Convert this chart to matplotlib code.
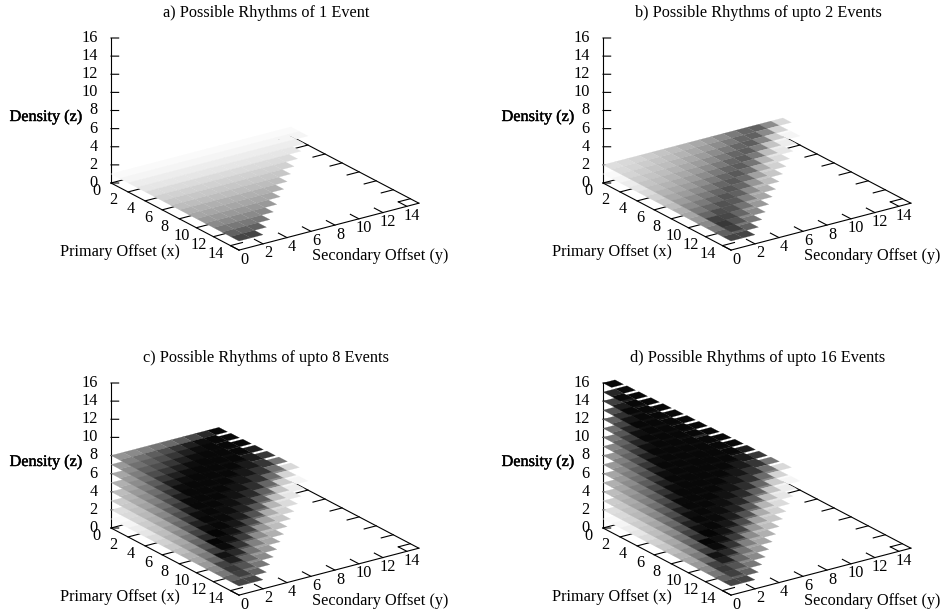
#!/usr/bin/env python3
"""Four gnuplot style pm3d plots of possible rhythms by density and offsets."""

import matplotlib
matplotlib.use("Agg")
import matplotlib.pyplot as plt
import matplotlib.patheffects as pe
from mpl_toolkits.mplot3d import proj3d
from mpl_toolkits.mplot3d.art3d import Poly3DCollection

W, H = 945, 611

TITLES = [
    "a) Possible Rhythms of 1 Event",
    "b) Possible Rhythms of upto 2 Events",
    "c) Possible Rhythms of upto 8 Events",
    "d) Possible Rhythms of upto 16 Events",
]
MAX_DENSITY = [1, 2, 8, 16]
OFFSET_TICKS = [0, 2, 4, 6, 8, 10, 12, 14]
DENSITY_TICKS = [0, 2, 4, 6, 8, 10, 12, 14, 16]

# gray level (percent white) of the z=1 layer, one value per primary offset
LAYER_1 = [98, 96, 93, 90, 86, 82, 78, 74, 69, 65, 60, 54, 47, 38, 27]

# gray level for the other layers, one value per x+y
LAYERS = {
    2: [87, 85, 83, 80, 77, 74, 70, 66, 61, 55, 48, 40, 33, 33, 33],
    3: [80, 78, 75, 72, 69, 65, 60, 54, 47, 40, 32, 23, 15, 15],
    4: [74, 71, 67, 63, 58, 53, 47, 41, 34, 26, 17, 9, 9],
    5: [69, 65, 60, 55, 50, 44, 37, 30, 22, 13, 6, 6],
    6: [65, 60, 55, 49, 43, 36, 29, 21, 12, 5, 3],
    7: [60, 55, 49, 43, 36, 28, 20, 11, 4, 3],
    8: [56, 50, 44, 37, 30, 21, 12, 5, 3],
    9: [52, 45, 38, 30, 21, 12, 5, 3],
    10: [47, 39, 31, 22, 12, 5, 3],
    11: [43, 34, 24, 14, 6, 3],
    12: [38, 27, 15, 6, 3],
    13: [32, 19, 8, 3],
    14: [25, 11, 3],
    15: [15, 4],
    16: [3],
}

# the back row (x=0) of layer 8 is lighter, one value per y
LAYER_8_BACK_ROW = [58, 54, 50, 46, 42, 36, 28, 16, 3]

# cells on or next to the stepped boundary, (layer, steps from it): one per x
EDGES = {
    (2, 0): [85, 83, 80, 77, 74, 71, 67, 63, 59, 55, 50, 45, 40, 33, 25],
    (2, 1): [55, 54, 52, 50, 48, 46, 44, 42, 40, 38, 35, 32, 28, 22],
    (2, 2): [38, 38, 37, 37, 36, 36, 35, 35, 34, 33, 32, 30, 26],
    (3, 0): [45, 44, 42, 40, 38, 36, 34, 32, 29, 26, 23, 20, 16, 12],
    (3, 1): [22, 21, 20, 19, 18, 17, 16, 15, 14, 13, 11, 9, 7],
    (4, 0): [22, 21, 20, 19, 18, 16, 15, 13, 11, 9, 7, 6, 4],
    (4, 1): [10, 10, 9, 9, 8, 8, 7, 6, 5, 4, 3, 2],
    (5, 0): [11, 10, 10, 9, 9, 8, 7, 6, 5, 4, 3, 2],
}

ORIGINS = [(111, 183), (603, 183), (111, 528), (603, 528)]
BOX = (222, 220, 156)
Z_PIXELS = 145


def cell_tone(x, y, z):
    if z == 1:
        return LAYER_1[x]
    if z == 8 and x == 0:
        return LAYER_8_BACK_ROW[y]
    steps = 16 - z - x - y
    if (z, steps) in EDGES:
        return EDGES[(z, steps)][x]
    return LAYERS[z][x + y]


def project(ax, x, y, z):
    px, py, _ = proj3d.proj_transform(x, y, z, ax.get_proj())
    return ax.transData.transform((px, py))


def fit_axes(fig, ax, origin):
    # scale and shift the 3d box so its z axis lands on the wanted pixels
    fig.canvas.draw()
    length = project(ax, 0, 0, 16)[1] - project(ax, 0, 0, 0)[1]
    ax.set_box_aspect(BOX, zoom=Z_PIXELS / length)
    fig.canvas.draw()
    px, py = project(ax, 0, 0, 0)
    pos = ax.get_position()
    ax.set_position([pos.x0 + (origin[0] - px) / W,
                     pos.y0 + (H - origin[1] - py) / H,
                     pos.width, pos.height])
    fig.canvas.draw()


def data_text(fig, ax, x, y, z, text, **kw):
    px, py = project(ax, x, y, z)
    fig.text(px / W, py / H, text, **kw)


def draw_panel(fig, index):
    ox, oy = ORIGINS[index]
    ax = fig.add_axes([(ox - 100) / W, 1 - (oy + 120) / H, 400 / W, 400 / H],
                      projection="3d", proj_type="ortho")
    ax.view_init(elev=21.7, azim=-35.2)
    ax.set_box_aspect(BOX)
    ax.set_xlim(0, 15, view_margin=0)
    ax.set_ylim(0, 15, view_margin=0)
    ax.set_zlim(0, 16, view_margin=0)
    ax.set_axis_off()
    ax.patch.set_visible(False)
    ax.computed_zorder = False

    # border
    line = dict(color="k", lw=0.8, zorder=1)
    ax.plot([0, 15], [0, 0], [0, 0], **line)
    ax.plot([15, 15], [0, 15], [0, 0], **line)
    ax.plot([0, 15], [15, 15], [0, 0], **line)
    ax.plot([0, 0], [0, 0], [0, 16], **line)

    for t in OFFSET_TICKS:
        ax.plot([t, t], [0, 1], [0, 0], **line)
        ax.plot([t, t], [15, 14], [0, 0], **line)
        ax.plot([15, 14], [t, t], [0, 0], **line)
    for t in DENSITY_TICKS:
        # this direction in the base plane is horizontal on screen
        ax.plot([0, 0.30], [0, 0.425], [t, t], **line)

    polys, colors = [], []
    for z in range(1, MAX_DENSITY[index] + 1):
        for x in range(15):
            for y in range(15):
                if x + y + z > 16:
                    continue
                polys.append([(x, y, z), (x + 1, y, z),
                              (x + 1, y + 1, z), (x, y + 1, z)])
                colors.append(str(cell_tone(x, y, z) / 100))
    surface = Poly3DCollection(polys, facecolors=colors, edgecolors=colors,
                               linewidths=0.15, zsort="average", zorder=2)
    ax.add_collection3d(surface)

    fit_axes(fig, ax, (ox, oy))

    for t in OFFSET_TICKS:
        data_text(fig, ax, t, -1.2, -0.5, str(t), ha="center", va="center")
        data_text(fig, ax, 15.6, t, -0.75, str(t), ha="center", va="center")
    for t in DENSITY_TICKS:
        data_text(fig, ax, -0.53, -0.75, t, str(t), ha="right", va="center")

    dx, dy = ox - ORIGINS[0][0], oy - ORIGINS[0][1]

    def label(px, py, text, **kw):
        return fig.text((px + dx) / W, 1 - (py + dy) / H, text,
                        ha="center", va="center", **kw)

    label(266, 13, TITLES[index])
    label(120, 252, "Primary Offset (x)")
    label(380, 256, "Secondary Offset (y)")
    label(46, 117, "Density (z)",
          path_effects=[pe.withStroke(linewidth=0.3, foreground="k")])


def main():
    plt.rcParams["font.family"] = ["Liberation Serif", "DejaVu Serif"]
    plt.rcParams["font.size"] = 11.7
    fig = plt.figure(figsize=(W / 100, H / 100), dpi=100)
    for i in range(4):
        draw_panel(fig, i)
    fig.savefig("out.png", dpi=100)
    plt.close(fig)


if __name__ == "__main__":
    main()
